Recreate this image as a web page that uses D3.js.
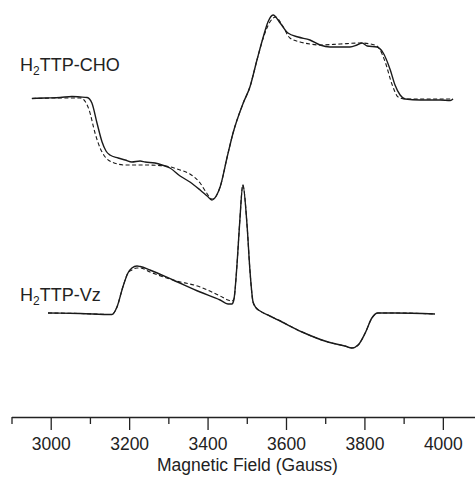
<!DOCTYPE html>
<meta charset="utf-8">
<title>EPR spectra</title>
<style>
  body { margin: 0; background: #fff; }
  text { font-family: "Liberation Sans", Arial, sans-serif; fill: #222; }
  .trace { fill: none; stroke: #1a1a1a; }
  .solid { stroke-width: 1.4px; }
  .dashed { stroke-width: 1.1px; stroke-dasharray: 4,2.5; }
  .axis path, .axis line { stroke: #222; stroke-width: 1.3px; }
</style>
<body>
<svg width="475" height="477"></svg>
<script src="https://d3js.org/d3.v7.min.js"></script>
<script>

// magnetic field (Gauss) and intensity (arb. units)
var choField = [2952, 2985, 3024, 3054, 3075, 3093, 3105, 3118, 3131, 3141, 3151, 3172, 3190, 3207, 3228, 3241, 3266, 3284, 3304, 3330, 3355, 3381, 3399, 3411, 3422, 3432, 3450, 3465, 3491, 3508, 3526, 3542, 3554, 3567, 3585, 3605, 3631, 3661, 3687, 3712, 3738, 3763, 3781, 3794, 3807, 3832, 3848, 3866, 3878, 3891, 3904, 3942, 3993, 4019, 4026];
var choExp = [0.005, 0.01, 0.015, 0.025, 0.02, 0.015, -0.04, -0.24, -0.43, -0.52, -0.56, -0.59, -0.61, -0.63, -0.62, -0.63, -0.64, -0.66, -0.69, -0.77, -0.83, -0.91, -0.97, -1.01, -0.97, -0.88, -0.58, -0.34, -0.04, 0.12, 0.39, 0.62, 0.77, 0.84, 0.76, 0.66, 0.62, 0.59, 0.54, 0.52, 0.52, 0.52, 0.54, 0.56, 0.53, 0.52, 0.46, 0.29, 0.14, 0.04, 0.0, -0.01, -0.01, -0.015, 0.0];

var choSimField = [2952, 3024, 3075, 3085, 3098, 3113, 3126, 3139, 3156, 3190, 3241, 3292, 3330, 3355, 3381, 3396, 3411, 3422, 3432, 3450, 3465, 3491, 3508, 3526, 3542, 3559, 3574, 3590, 3610, 3636, 3661, 3687, 3738, 3789, 3827, 3840, 3853, 3871, 3886, 3904, 3968, 4026];
var choSim = [0.005, 0.01, 0.01, -0.01, -0.11, -0.34, -0.49, -0.58, -0.63, -0.66, -0.66, -0.67, -0.71, -0.75, -0.84, -0.93, -1.0, -0.97, -0.88, -0.58, -0.34, -0.04, 0.12, 0.39, 0.61, 0.77, 0.82, 0.74, 0.61, 0.57, 0.55, 0.54, 0.55, 0.56, 0.54, 0.49, 0.37, 0.14, 0.02, 0.0, 0.0, 0.0];

var vzField = [2993, 3075, 3156, 3169, 3184, 3197, 3207, 3220, 3228, 3253, 3312, 3381, 3432, 3452, 3462, 3467, 3475, 3482, 3490, 3501, 3508, 3516, 3524, 3534, 3559, 3580, 3641, 3707, 3750, 3768, 3784, 3802, 3819, 3834, 3878, 3980];
var vzExp = [0.01, 0.005, -0.005, 0.07, 0.27, 0.41, 0.46, 0.48, 0.475, 0.44, 0.34, 0.22, 0.14, 0.10, 0.10, 0.14, 0.49, 0.92, 1.29, 0.87, 0.44, 0.12, 0.06, 0.03, -0.02, -0.06, -0.18, -0.28, -0.32, -0.34, -0.31, -0.19, -0.04, 0.01, 0.01, 0.0];
var vzSim = [0.01, 0.005, -0.005, 0.07, 0.27, 0.41, 0.44, 0.46, 0.46, 0.42, 0.34, 0.27, 0.18, 0.14, 0.13, 0.15, 0.49, 0.92, 1.29, 0.87, 0.44, 0.12, 0.06, 0.03, -0.02, -0.06, -0.18, -0.28, -0.32, -0.34, -0.31, -0.19, -0.04, 0.01, 0.01, 0.0];

var majorTicks = [3000, 3200, 3400, 3600, 3800, 4000];
var minorTicks = [2900, 3100, 3300, 3500, 3700, 3900];

var svg = d3.select("svg");

var x = d3.scaleLinear().domain([2900, 4082]).range([11.5, 475]);
var y = d3.scaleLinear().domain([-3.18, 0.99]).range([417, 0]);

// vertical offsets of the two spectra
var offsetCHO = 0, offsetVz = -2.15;

function zip(f, v, off) {
  return f.map(function (d, i) { return [d, v[i] + off]; });
}

var line = d3.line()
  .x(d => x(d[0]))
  .y(d => y(d[1]))
  .curve(d3.curveMonotoneX);

svg.append("path").attr("class", "trace dashed").attr("d", line(zip(choSimField, choSim, offsetCHO)));
svg.append("path").attr("class", "trace solid").attr("d", line(zip(choField, choExp, offsetCHO)));
svg.append("path").attr("class", "trace dashed").attr("d", line(zip(vzField, vzSim, offsetVz)));
svg.append("path").attr("class", "trace solid").attr("d", line(zip(vzField, vzExp, offsetVz)));

// labels
function label(yb, rest) {
  var t = svg.append("text").attr("x", 20).attr("y", yb).style("font-size", "18px");
  t.append("tspan").text("H");
  t.append("tspan").attr("dy", 4).style("font-size", "12px").text("2");
  t.append("tspan").attr("dy", -4).text(rest);
}
label(71, "TTP-CHO");
label(301, "TTP-Vz");

// axis
var gx = svg.append("g").attr("class", "axis").attr("transform", "translate(0,417)");
gx.call(d3.axisBottom(x).tickValues(majorTicks).tickSize(13).tickSizeOuter(0).tickPadding(8).tickFormat(d3.format("d")));
gx.selectAll("text").style("font-size", "17.5px").style("font-family", "'Liberation Sans', Arial, sans-serif").attr("fill", "#222");

var gm = svg.append("g").attr("class", "axis").attr("transform", "translate(0,417)");
gm.call(d3.axisBottom(x).tickValues(minorTicks).tickSize(7).tickSizeOuter(0).tickFormat(""));
gm.select(".domain").remove();

svg.append("text")
  .attr("x", 247.5).attr("y", 471)
  .attr("text-anchor", "middle")
  .style("font-size", "17.5px")
  .text("Magnetic Field (Gauss)");

</script>
</body>
